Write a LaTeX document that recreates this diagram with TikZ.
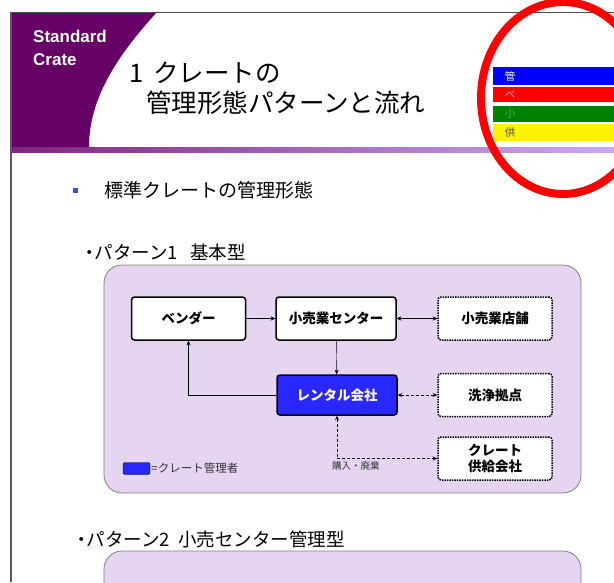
\documentclass[tikz,border=0pt]{standalone}
\usepackage{fontspec}
\setmainfont{Noto Sans CJK JP}
\newfontfamily\latinfont{Liberation Sans}
\usetikzlibrary{arrows.meta}
\definecolor{hdrpurple}{RGB}{102,0,102}
\definecolor{stripeend}{RGB}{205,170,240}
\definecolor{panel}{RGB}{230,213,240}
\definecolor{mgrblue}{RGB}{40,40,255}
\definecolor{bulletblue}{RGB}{50,90,210}
\definecolor{bargreen}{RGB}{0,128,0}
\begin{document}
\begin{tikzpicture}[x=1pt,y=-1pt,>={Stealth[length=4.5pt,width=4pt]},
  box/.style={draw,line width=1.5pt,rounded corners=3pt,fill=white,
    minimum width=114pt,minimum height=43pt,inner sep=1pt,align=center,
    font=\bfseries\fontsize{13.5}{16}\selectfont},
  dotbox/.style={box,densely dotted},
  mgrbox/.style={box,fill=mgrblue,text=white},
  panelbox/.style={draw=gray,fill=panel,line width=0.8pt,rounded corners=18pt},
  barlabel/.style={font=\fontsize{10.5}{10.5}\selectfont,inner sep=0pt},
  heading/.style={anchor=west,inner sep=0pt,font=\fontsize{18.5}{22}\selectfont},
  smalltext/.style={anchor=west,inner sep=1pt,text=black!80}]
  \useasboundingbox (0,0) rectangle (614,582);
  % header
  \fill[hdrpurple] (11,12) -- (157,12) .. controls (115,58) and (89,100) .. (89,147) -- (11,147) -- cycle;
  \shade[left color=hdrpurple!85, right color=stripeend] (11,147) rectangle (614,152);
  \draw[black!70, line width=0.8pt] (11,12) -- (614,12);
  \draw[black!65, line width=2.5pt] (11,12) -- (11,582);
  \node[anchor=west,align=left,text=white,inner sep=0pt,
    font=\latinfont\bfseries\fontsize{17}{23}\selectfont] (brand) at (33,48) {Standard\\Crate};
  \node[anchor=west,inner sep=0pt,font=\fontsize{25.5}{28}\selectfont] (title1) at (129,73) {1\hspace{10pt}クレートの};
  \node[anchor=west,inner sep=0pt,font=\fontsize{25.5}{28}\selectfont] (title2) at (146,103) {管理形態パターンと流れ};
  % colour bars
  \fill[blue] (493,67) rectangle (614,85);
  \fill[red] (493,87) rectangle (614,102);
  \fill[bargreen] (493,106) rectangle (614,122);
  \fill[yellow] (493,124) rectangle (614,141);
  \node[barlabel,text=white] (bar1) at (510,76) {管};
  \node[barlabel,text=red!30] (bar2) at (510,94.5) {ペ};
  \node[barlabel,text=green!40!gray] (bar3) at (510,114) {小};
  \node[barlabel,text=black!80!yellow] (bar4) at (510,132.5) {供};
  \draw[red, line width=8pt] (563,98) ellipse (82pt and 96pt);
  % headings
  \fill[bulletblue] (73,188) rectangle (78,193);
  \node[anchor=west,inner sep=0pt,font=\fontsize{19}{22}\selectfont] (head) at (104,190) {標準クレートの管理形態};
  \node[heading] (pat1) at (80,252) {・\hspace{-4pt}パターン1\hspace{12pt}基本型};
  \node[heading] (pat2) at (72,539) {・\hspace{-4pt}パターン2\hspace{8pt}小売センター管理型};
  % pattern 1
  \draw[panelbox] (104,265) rectangle (581,493);
  \node[box] (vendor) at (188.5,318.5) {ベンダー};
  \node[box,minimum width=120pt] (rcenter) at (336,318.5) {小売業センター};
  \node[dotbox] (store) at (495,318.5) {小売業店舗};
  \node[mgrbox,minimum width=120pt,minimum height=40pt] (rental) at (337,395) {レンタル会社};
  \node[dotbox] (wash) at (495,395) {洗浄拠点};
  \node[dotbox] (supply) at (495,458.5) {クレート\\供給会社};
  \draw[->] (vendor) -- (rcenter);
  \draw[<->] (rcenter) -- (store);
  \draw[->] (rcenter) -- (rental);
  \draw[->] (rental.west) -| (vendor.south);
  \draw[<->,densely dashed,line width=0.9pt] (rental) -- (wash);
  \draw[<->,densely dashed,line width=0.9pt] (rental.south) |- (supply.west);
  \node[smalltext,font=\fontsize{9.5}{10}\selectfont] (buy) at (331,466) {購入・廃棄};
  \node[draw,fill=mgrblue,rounded corners=2pt,minimum width=27pt,minimum height=12pt,inner sep=0pt] (key) at (136.5,468.5) {};
  \node[smalltext,font=\fontsize{11.5}{13}\selectfont] (keytext) at (key.east) {=クレート管理者};
  % pattern 2
  \draw[panelbox] (104,590) -- (104,551) -- (581,551) -- (581,590);
\end{tikzpicture}
\end{document}
